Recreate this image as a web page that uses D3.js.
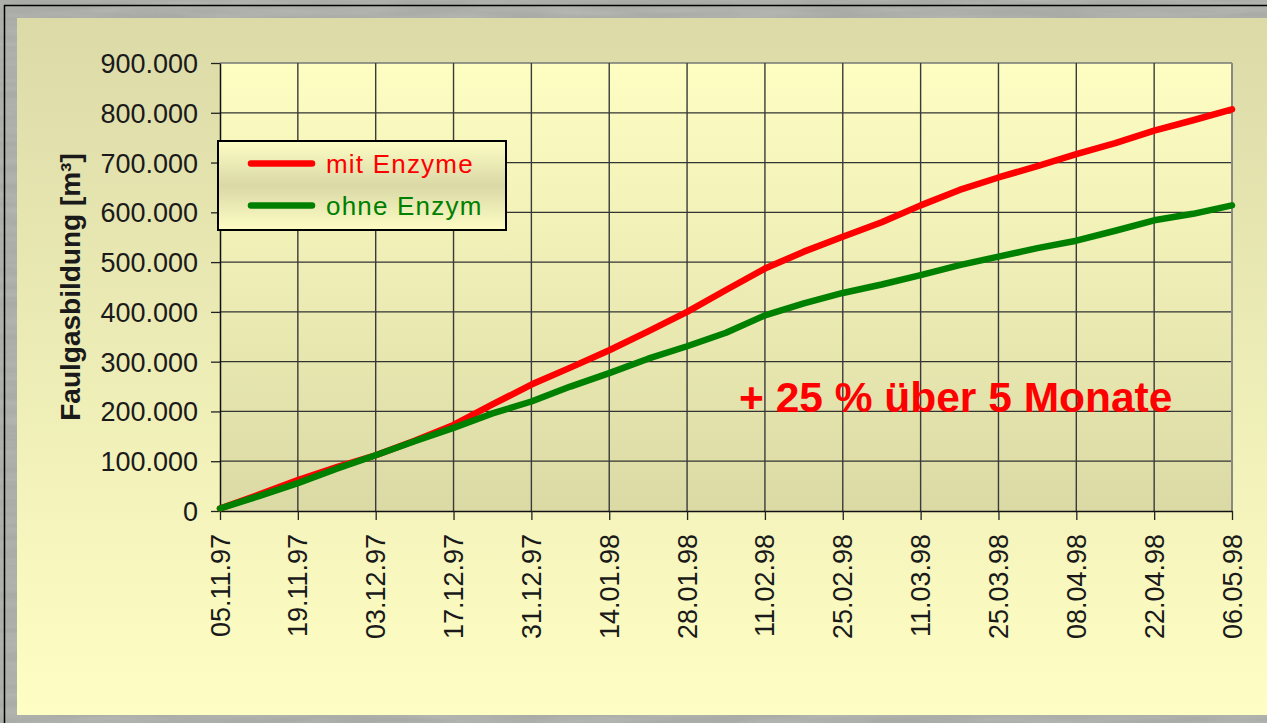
<!DOCTYPE html>
<html>
<head>
<meta charset="utf-8">
<script src="https://cdn.jsdelivr.net/npm/d3@7"></script>
<style>
  html, body { margin: 0; padding: 0; background: #a8aba5; }
  svg { display: block; }
  text { font-family: "Liberation Sans", Arial, sans-serif; }
</style>
</head>
<body>
<svg id="chart" width="1267" height="723"></svg>
<script>
// ---------- data ----------
const dates = ["05.11.97","12.11.97","19.11.97","26.11.97","03.12.97","10.12.97","17.12.97","24.12.97","31.12.97",
               "07.01.98","14.01.98","21.01.98","28.01.98","04.02.98","11.02.98","18.02.98","25.02.98",
               "04.03.98","11.03.98","18.03.98","25.03.98","01.04.98","08.04.98","15.04.98","22.04.98","29.04.98","06.05.98"];
const mitEnzyme = [5000, 33000, 62000, 88000, 112000, 141000, 173000, 214000, 254000,
                   288000, 323000, 361000, 400000, 444000, 487000, 521000, 551000,
                   580000, 614000, 645000, 670000, 693000, 717000, 739000, 764000, 785000, 807000];
const ohneEnzym = [5000, 30000, 56000, 85000, 112000, 140000, 167000, 196000, 220000,
                   250000, 277000, 306000, 331000, 358000, 393000, 417000, 438000,
                   455000, 474000, 494000, 511000, 528000, 543000, 563000, 584000, 597000, 614000];
const xTickLabels = ["05.11.97","19.11.97","03.12.97","17.12.97","31.12.97","14.01.98","28.01.98",
                     "11.02.98","25.02.98","11.03.98","25.03.98","08.04.98","22.04.98","06.05.98"];
const yTicks = [0, 100000, 200000, 300000, 400000, 500000, 600000, 700000, 800000, 900000];
const seriesNames = ["mit Enzyme", "ohne Enzym"];
const seriesColors = ["#ff0000", "#008000"];
const yTitle = "Faulgasbildung [m³]";
const annotation = "+ 25 % über 5 Monate";

// ---------- setup ----------
const parse = d3.timeParse("%d.%m.%y");
const fmtDate = d3.timeFormat("%d.%m.%y");
const de = d3.formatLocale({decimal: ",", thousands: ".", grouping: [3], currency: ["", " €"]});
const fmtY = de.format(",d");

const svg = d3.select("#chart");
const W = 1267, H = 723;
const plot = {left: 220, top: 63, right: 1232, bottom: 511};

const defs = svg.append("defs");
const gPanel = defs.append("linearGradient").attr("id", "panelGrad").attr("x1", 0).attr("y1", 0).attr("x2", 0).attr("y2", 1);
gPanel.append("stop").attr("offset", "0%").attr("stop-color", "#dcdba8");
gPanel.append("stop").attr("offset", "100%").attr("stop-color", "#fefec4");
const gPlot = defs.append("linearGradient").attr("id", "plotGrad").attr("x1", 0).attr("y1", 0).attr("x2", 0).attr("y2", 1);
gPlot.append("stop").attr("offset", "0%").attr("stop-color", "#fefec3");
gPlot.append("stop").attr("offset", "100%").attr("stop-color", "#dbdaa5");
const gLeg = defs.append("linearGradient").attr("id", "legGrad").attr("x1", 0).attr("y1", 0).attr("x2", 0).attr("y2", 1);
gLeg.append("stop").attr("offset", "0%").attr("stop-color", "#fdfdc4");
gLeg.append("stop").attr("offset", "50%").attr("stop-color", "#dad9a7");
gLeg.append("stop").attr("offset", "100%").attr("stop-color", "#fdfdc4");
const turb = defs.append("filter").attr("id", "marble").attr("x", 0).attr("y", 0).attr("width", 1).attr("height", 1);
turb.append("feTurbulence").attr("type", "fractalNoise").attr("baseFrequency", "0.01 0.12").attr("numOctaves", 3).attr("seed", 4);
turb.append("feColorMatrix").attr("type", "matrix")
  .attr("values", "0 0 0 0 0.55  0 0 0 0 0.57  0 0 0 0 0.54  0 0 0 1.2 -0.35");

// background
svg.append("rect").attr("width", W).attr("height", H).attr("fill", "#a9aca6");
svg.append("rect").attr("width", W).attr("height", H).attr("filter", "url(#marble)").attr("opacity", 0.6);
// black frame lines
svg.append("line").attr("x1", 4.5).attr("x2", 4.5).attr("y1", 5).attr("y2", H).attr("stroke", "#000").attr("stroke-width", 1.5);
svg.append("line").attr("x1", 4).attr("x2", W).attr("y1", 5.5).attr("y2", 5.5).attr("stroke", "#000").attr("stroke-width", 1.5);

// panel
svg.append("rect").attr("x", 17).attr("y", 18).attr("width", W - 17).attr("height", 715 - 18).attr("fill", "url(#panelGrad)");

// scales
const x = d3.scaleTime().domain([parse(xTickLabels[0]), parse(xTickLabels[xTickLabels.length - 1])]).range([plot.left, plot.right]);
const y = d3.scaleLinear().domain([0, 900000]).range([plot.bottom, plot.top]);

// plot area
svg.append("rect").attr("x", plot.left).attr("y", plot.top)
  .attr("width", plot.right - plot.left).attr("height", plot.bottom - plot.top).attr("fill", "url(#plotGrad)");

// gridlines
const grid = svg.append("g");
grid.selectAll("line.h").data(yTicks.filter(d => d > 0)).join("line")
  .attr("x1", plot.left).attr("x2", plot.right).attr("y1", d => y(d)).attr("y2", d => y(d))
  .attr("stroke", d => d === 900000 ? "#777" : "#333").attr("stroke-width", 1.3);
const xTickDates = xTickLabels.map(parse);
grid.selectAll("line.v").data(xTickDates.slice(1)).join("line")
  .attr("x1", d => x(d)).attr("x2", d => x(d)).attr("y1", plot.top).attr("y2", plot.bottom)
  .attr("stroke", (d, i) => i === xTickDates.length - 2 ? "#888" : "#3a3a3a").attr("stroke-width", (d, i) => i === xTickDates.length - 2 ? 2 : 1.4);

// axes
const yAxis = svg.append("g").attr("transform", `translate(${plot.left},0)`)
  .call(d3.axisLeft(y).tickValues(yTicks).tickFormat(fmtY).tickSize(9).tickSizeOuter(0).tickPadding(13));
yAxis.select(".domain").attr("stroke", "#111").attr("stroke-width", 1.5);
yAxis.selectAll(".tick line").attr("stroke", "#222").attr("stroke-width", 1.3);
yAxis.selectAll(".tick text").attr("font-size", 27).attr("fill", "#1a1a1a").attr("font-family", "Liberation Sans, Arial, sans-serif").attr("dy", "0.35em");

const xAxis = svg.append("g").attr("transform", `translate(0,${plot.bottom})`)
  .call(d3.axisBottom(x).tickValues(xTickDates).tickFormat(fmtDate).tickSize(9).tickSizeOuter(0));
xAxis.select(".domain").attr("stroke", "#111").attr("stroke-width", 1.5);
xAxis.selectAll(".tick line").attr("stroke", "#222").attr("stroke-width", 1.3);
xAxis.selectAll(".tick text")
  .attr("font-size", 27).attr("fill", "#1a1a1a").attr("font-family", "Liberation Sans, Arial, sans-serif")
  .attr("text-anchor", "end").attr("dy", null)
  .attr("transform", "translate(0,23) rotate(-90)")
  .attr("x", 0).attr("y", 0).attr("dominant-baseline", "central");

// y title
svg.append("text").attr("transform", "translate(70,287) rotate(-90)")
  .attr("text-anchor", "middle").attr("dominant-baseline", "central")
  .attr("font-size", 28).attr("font-weight", "bold").attr("fill", "#1a1a1a").text(yTitle);

// lines
const series = [mitEnzyme, ohneEnzym];
const line = d3.line().x((d, i) => x(parse(dates[i]))).y(d => y(d));
series.forEach((vals, k) => {
  svg.append("path").datum(vals).attr("d", line).attr("fill", "none")
    .attr("stroke", seriesColors[k]).attr("stroke-width", 6.5)
    .attr("stroke-linejoin", "round").attr("stroke-linecap", "round");
});

// annotation
svg.append("text").attr("x", 739).attr("y", 412).attr("font-size", 42.5).attr("font-weight", "bold")
  .attr("fill", "#ff0000").text(annotation);

// legend
const leg = svg.append("g");
leg.append("rect").attr("x", 218).attr("y", 141).attr("width", 288).attr("height", 89)
  .attr("fill", "url(#legGrad)").attr("stroke", "#000").attr("stroke-width", 2);
const legY = [163.5, 205.5];
seriesNames.forEach((name, k) => {
  leg.append("line").attr("x1", 251).attr("x2", 312).attr("y1", legY[k]).attr("y2", legY[k])
    .attr("stroke", seriesColors[k]).attr("stroke-width", 6.5).attr("stroke-linecap", "round");
  leg.append("text").attr("x", 326).attr("y", legY[k]).attr("dominant-baseline", "central")
    .attr("font-size", 26).attr("letter-spacing", 1.2).attr("fill", seriesColors[k]).text(name);
});
</script>
</body>
</html>
